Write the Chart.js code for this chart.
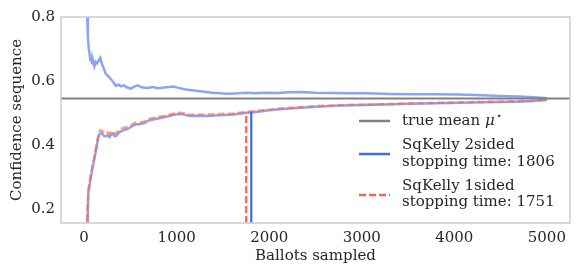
<!DOCTYPE html>
<html>
<head>
<meta charset="utf-8">
<script src="https://cdn.jsdelivr.net/npm/chart.js@4.4.1/dist/chart.umd.min.js"></script>
<style>
  html, body { margin: 0; padding: 0; background: #fff; }
  #wrap { width: 582px; height: 276px; }
</style>
</head>
<body>
<div id="wrap"><canvas id="csChart" width="582" height="276"></canvas></div>
<script>
// upper bound of the 2-sided sequence
const upperX = [15, 25, 32, 40, 50, 57, 65, 75, 85, 95, 111, 125, 140, 160, 175, 190, 210, 237, 260, 290,
  310, 330, 344, 370, 400, 430, 460, 505, 540, 577, 620, 680, 740, 800, 860, 920, 968, 1020, 1100, 1183,
  1280, 1380, 1473, 1560, 1660, 1760, 1850, 1950, 2100, 2200, 2333, 2500, 2700, 2871, 3050, 3300, 3588, 3800, 4050, 4301,
  4500, 4700, 4850, 4946, 5000];
const upperY = [1.0, 0.86, 0.80, 0.74, 0.70, 0.688, 0.67, 0.675, 0.655, 0.665, 0.646, 0.66, 0.655, 0.665, 0.672, 0.655, 0.64, 0.62, 0.615, 0.605,
  0.598, 0.59, 0.584, 0.588, 0.583, 0.586, 0.58, 0.576, 0.582, 0.586, 0.58, 0.578, 0.581, 0.577, 0.579, 0.581, 0.582, 0.578, 0.573, 0.57,
  0.567, 0.563, 0.561, 0.56, 0.561, 0.563, 0.561, 0.563, 0.562, 0.564, 0.565, 0.563, 0.562, 0.561, 0.561, 0.559, 0.558, 0.558, 0.557, 0.555,
  0.553, 0.551, 0.549, 0.547, 0.546];

// lower bounds (2-sided blue, 1-sided red)
const lowerX = [20, 32, 40, 46, 55, 70, 93, 110, 130, 147, 160, 175, 195, 215, 235, 254, 275, 290, 308, 325,
  344, 370, 398, 430, 470, 520, 559, 600, 650, 700, 756, 800, 860, 920, 971, 1020, 1075, 1130, 1186, 1250,
  1300, 1366, 1450, 1530, 1613, 1700, 1760, 1828, 1900, 2000, 2151, 2300, 2513, 2700, 2900, 3233, 3500, 3946, 4300, 4663,
  4850, 4946, 5000];
const lower2Y = [0.12, 0.157, 0.2, 0.25, 0.265, 0.295, 0.33, 0.355, 0.385, 0.413, 0.43, 0.436, 0.434, 0.428, 0.426, 0.43, 0.424, 0.431, 0.435, 0.428,
  0.427, 0.437, 0.442, 0.446, 0.45, 0.458, 0.464, 0.464, 0.468, 0.476, 0.48, 0.482, 0.486, 0.49, 0.494, 0.496, 0.495, 0.491, 0.49, 0.491,
  0.49, 0.491, 0.492, 0.493, 0.495, 0.498, 0.5, 0.502, 0.504, 0.508, 0.512, 0.515, 0.519, 0.522, 0.524, 0.526, 0.528, 0.531, 0.533, 0.535,
  0.537, 0.539, 0.54];
const lower1Y = [0.13, 0.17, 0.215, 0.262, 0.275, 0.305, 0.338, 0.362, 0.393, 0.421, 0.44, 0.446, 0.443, 0.437, 0.435, 0.439, 0.433, 0.44, 0.443, 0.436,
  0.435, 0.445, 0.45, 0.453, 0.456, 0.464, 0.47, 0.469, 0.473, 0.481, 0.485, 0.487, 0.49, 0.494, 0.498, 0.5, 0.499, 0.495, 0.494, 0.495,
  0.494, 0.495, 0.496, 0.497, 0.498, 0.501, 0.503, 0.505, 0.507, 0.51, 0.514, 0.517, 0.521, 0.523, 0.525, 0.527, 0.529, 0.532, 0.534, 0.536,
  0.538, 0.54, 0.541];

const trueMean = 0.545;
const stopTimes = [1806, 1751];      // 2sided, 1sided
const stopTops = [0.503, 0.5];
const xTicks = [0, 1000, 2000, 3000, 4000, 5000];
const yTicks = [0.2, 0.4, 0.6, 0.8];
const xRange = [-250, 5250];
const yRange = [0.155, 0.8];

const BLUE = '#4169e1';
const RED = '#ff6347';
const pts = (xs, ys) => xs.map((x, i) => ({ x: x, y: ys[i] }));

Chart.defaults.font.family = "'DejaVu Serif', serif";
Chart.defaults.font.size = 15;
Chart.defaults.color = '#262626';

const framePlugin = {
  id: 'frame',
  afterDraw(chart) {
    const { ctx, chartArea: a } = chart;
    ctx.save();
    ctx.strokeStyle = '#cccccc';
    ctx.lineWidth = 1.5;
    ctx.strokeRect(a.left, a.top, a.right - a.left, a.bottom - a.top);
    ctx.restore();
  }
};

// legend drawn inside the plot, lower right
const legendPlugin = {
  id: 'insideLegend',
  afterDraw(chart) {
    const { ctx, chartArea: a } = chart;
    const x0 = a.right - 211, x1 = a.right - 180, tx = a.right - 168;
    const font = "15px 'DejaVu Serif', serif";
    ctx.save();
    ctx.textBaseline = 'middle';
    ctx.fillStyle = '#262626';
    ctx.lineWidth = 2.5;

    const handle = (y, color, dash) => {
      ctx.strokeStyle = color;
      ctx.setLineDash(dash);
      ctx.beginPath();
      ctx.moveTo(x0, y);
      ctx.lineTo(x1, y);
      ctx.stroke();
      ctx.setLineDash([]);
    };

    let y = a.bottom - 102;
    handle(y, '#808080', []);
    ctx.font = font;
    const t = 'true mean ';
    ctx.fillText(t, tx, y);
    let w = ctx.measureText(t).width;
    ctx.font = "italic 15px 'DejaVu Serif', serif";
    ctx.fillText('\u03bc', tx + w, y);
    w += ctx.measureText('\u03bc').width + 1;
    ctx.font = "10px 'DejaVu Serif', serif";
    ctx.fillText('\u22c6', tx + w, y - 5);

    ctx.font = font;
    y = a.bottom - 69;
    handle(y, BLUE, []);
    ctx.fillText('SqKelly 2sided', tx, y - 9);
    ctx.fillText('stopping time: ' + stopTimes[0], tx, y + 8);

    y = a.bottom - 28;
    handle(y, RED, [7, 3]);
    ctx.fillText('SqKelly 1sided', tx, y - 9);
    ctx.fillText('stopping time: ' + stopTimes[1], tx, y + 7);
    ctx.restore();
  }
};

const ctx = document.getElementById('csChart').getContext('2d');
const chart = new Chart(ctx, {
  type: 'line',
  data: {
    datasets: [
      {
        label: 'SqKelly 1sided stop',
        data: [{ x: stopTimes[1], y: yRange[0] }, { x: stopTimes[1], y: stopTops[1] }],
        borderColor: RED, borderWidth: 2.2, borderDash: [7, 3]
      },
      {
        label: 'SqKelly 2sided stop',
        data: [{ x: stopTimes[0], y: yRange[0] }, { x: stopTimes[0], y: stopTops[0] }],
        borderColor: BLUE, borderWidth: 2.2
      },
      {
        label: 'true mean',
        data: [{ x: xRange[0], y: trueMean }, { x: xRange[1], y: trueMean }],
        borderColor: '#808080', borderWidth: 2
      },
      {
        label: 'SqKelly 1sided lower',
        data: pts(lowerX, lower1Y),
        borderColor: 'rgba(255, 99, 71, 0.6)', borderWidth: 2.5, borderDash: [7, 3]
      },
      {
        label: 'SqKelly 2sided lower',
        data: pts(lowerX, lower2Y),
        borderColor: 'rgba(65, 105, 225, 0.6)', borderWidth: 2.5
      },
      {
        label: 'SqKelly 2sided upper',
        data: pts(upperX, upperY),
        borderColor: 'rgba(65, 105, 225, 0.6)', borderWidth: 2.5
      }
    ]
  },
  options: {
    responsive: false,
    animation: false,
    devicePixelRatio: 1,
    elements: { point: { radius: 0 }, line: { tension: 0 } },
    layout: { padding: { left: 0, right: 12, top: 17, bottom: 0 } },
    plugins: { legend: { display: false }, tooltip: { enabled: false } },
    scales: {
      x: {
        type: 'linear',
        min: xRange[0], max: xRange[1],
        grid: { display: false, drawTicks: false },
        border: { display: false },
        afterBuildTicks: (s) => { s.ticks = xTicks.map(v => ({ value: v })); },
        afterFit: (s) => { s.height = 53; },
        ticks: { padding: 6, maxRotation: 0, callback: (v) => String(v) },
        title: { display: true, text: 'Ballots sampled', padding: { top: 0, bottom: 11 } }
      },
      y: {
        min: yRange[0], max: yRange[1],
        grid: { display: false, drawTicks: false },
        border: { display: false },
        afterBuildTicks: (s) => { s.ticks = yTicks.map(v => ({ value: v })); },
        afterFit: (s) => { s.width = 61; },
        ticks: { padding: 6, callback: (v) => v.toFixed(1) },
        title: { display: true, text: 'Confidence sequence', padding: { top: 8, bottom: 0 } }
      }
    }
  },
  plugins: [framePlugin, legendPlugin]
});
</script>
</body>
</html>
